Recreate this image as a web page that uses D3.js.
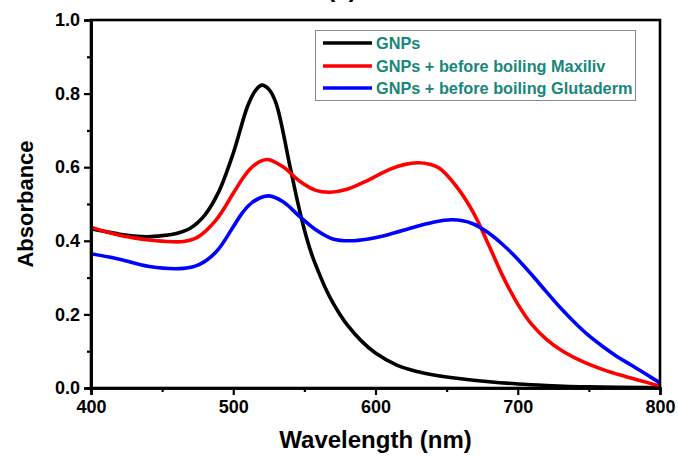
<!DOCTYPE html>
<html>
<head>
<meta charset="utf-8">
<script src="https://cdn.jsdelivr.net/npm/d3@7"></script>
<style>
  html, body { margin: 0; padding: 0; background: #fff; }
  svg { display: block; font-family: "Liberation Sans", Arial, sans-serif; }
</style>
</head>
<body>
<svg id="chart" width="678" height="460"></svg>
<script>
// UV-Vis absorbance spectra of gold nanoparticles (GNPs)
const seriesNames = ["GNPs", "GNPs + before boiling Maxiliv", "GNPs + before boiling Glutaderm"];
const seriesColors = ["#000000", "#ff0000", "#0000ff"];

const gnpsWavelength = [400, 410, 420, 430, 440, 450, 460, 470, 480, 490, 500, 510, 515, 520, 525, 530, 540, 545, 550, 555, 560, 565, 570, 575, 580, 590, 600, 615, 630, 640, 660, 680, 700, 720, 750, 800];
const gnpsAbs        = [0.433, 0.425, 0.418, 0.413, 0.411, 0.414, 0.42, 0.435, 0.47, 0.535, 0.638, 0.765, 0.805, 0.823, 0.812, 0.775, 0.60, 0.51, 0.43, 0.365, 0.315, 0.27, 0.232, 0.20, 0.172, 0.128, 0.095, 0.062, 0.044, 0.036, 0.025, 0.017, 0.011, 0.007, 0.003, 0.001];

const maxilivWavelength = [400, 410, 420, 430, 441, 450, 465, 475, 488, 500, 506, 512, 518, 524, 535, 547, 558, 568, 580, 595, 610, 620, 630, 638, 645, 657, 669, 680, 690, 700, 710, 720, 730, 745, 760, 775, 790, 800];
const maxilivAbs        = [0.437, 0.425, 0.415, 0.408, 0.402, 0.399, 0.398, 0.41, 0.457, 0.529, 0.566, 0.596, 0.614, 0.621, 0.601, 0.561, 0.537, 0.532, 0.54, 0.565, 0.594, 0.607, 0.612, 0.608, 0.597, 0.547, 0.475, 0.385, 0.30, 0.228, 0.172, 0.133, 0.104, 0.073, 0.05, 0.032, 0.016, 0.005];

const glutadermWavelength = [400, 420, 441, 465, 476, 488, 500, 506, 512, 518, 525, 535, 547, 558, 570, 582, 595, 610, 625, 640, 654, 668, 680, 690, 700, 710, 720, 730, 740, 750, 760, 770, 780, 790, 800];
const glutadermAbs        = [0.365, 0.35, 0.33, 0.325, 0.335, 0.37, 0.438, 0.474, 0.50, 0.515, 0.522, 0.506, 0.465, 0.43, 0.405, 0.40, 0.405, 0.418, 0.435, 0.45, 0.457, 0.447, 0.42, 0.388, 0.35, 0.307, 0.262, 0.218, 0.178, 0.142, 0.112, 0.085, 0.062, 0.038, 0.014];

const xTicks = [400, 500, 600, 700, 800];
const xMinorTicks = [450, 550, 650, 750];
const yTicks = [0.0, 0.2, 0.4, 0.6, 0.8, 1.0];
const yMinorTicks = [0.1, 0.3, 0.5, 0.7, 0.9];

const series = [
  { name: seriesNames[0], color: seriesColors[0], x: gnpsWavelength, y: gnpsAbs },
  { name: seriesNames[1], color: seriesColors[1], x: maxilivWavelength, y: maxilivAbs },
  { name: seriesNames[2], color: seriesColors[2], x: glutadermWavelength, y: glutadermAbs }
];

const svg = d3.select("#chart");
const margin = { left: 91, right: 18, top: 20, bottom: 72 };
const W = 678, H = 460;
const x = d3.scaleLinear().domain([400, 800]).range([margin.left, W - margin.right]);
const y = d3.scaleLinear().domain([0, 1]).range([H - margin.bottom, margin.top]);

// Panel label (partially above the view)
svg.append("text")
  .attr("x", 342).attr("y", -3)
  .attr("text-anchor", "middle")
  .attr("font-size", 24).attr("font-weight", "bold")
  .text("(a)");

// Clip curves to the plot area
svg.append("clipPath").attr("id", "plotClip")
  .append("rect")
  .attr("x", x(400)).attr("y", y(1))
  .attr("width", x(800) - x(400)).attr("height", y(0) - y(1));

const line = d3.line().curve(d3.curveCatmullRom.alpha(0.5));

const plot = svg.append("g").attr("clip-path", "url(#plotClip)");
series.forEach(s => {
  const pts = s.x.map((w, i) => [x(w), y(s.y[i])]);
  plot.append("path")
    .attr("d", line(pts))
    .attr("fill", "none")
    .attr("stroke", s.color)
    .attr("stroke-width", 3.6)
    .attr("stroke-linejoin", "round");
});

// Frame
svg.append("rect")
  .attr("x", x(400)).attr("y", y(1))
  .attr("width", x(800) - x(400)).attr("height", y(0) - y(1))
  .attr("fill", "none").attr("stroke", "#000").attr("stroke-width", 2.6);

// Axes
const tickFont = 18;
const xAxis = svg.append("g").attr("transform", `translate(0,${y(0)})`)
  .call(d3.axisBottom(x).tickValues(xTicks).tickFormat(d3.format("d")).tickSize(7).tickPadding(5));
const xMinor = svg.append("g").attr("transform", `translate(0,${y(0)})`)
  .call(d3.axisBottom(x).tickValues(xMinorTicks).tickFormat("").tickSize(4));
const yAxis = svg.append("g").attr("transform", `translate(${x(400)},0)`)
  .call(d3.axisLeft(y).tickValues(yTicks).tickFormat(d3.format(".1f")).tickSize(7).tickPadding(4));
const yMinor = svg.append("g").attr("transform", `translate(${x(400)},0)`)
  .call(d3.axisLeft(y).tickValues(yMinorTicks).tickFormat("").tickSize(4));

[xAxis, xMinor, yAxis, yMinor].forEach(g => {
  g.select(".domain").attr("stroke", "#000").attr("stroke-width", 2.6);
  g.selectAll(".tick line").attr("stroke", "#000").attr("stroke-width", 2.2);
  g.selectAll(".tick text")
    .attr("font-size", tickFont).attr("font-weight", "bold").attr("fill", "#000")
    .attr("font-family", "'Liberation Sans', Arial, sans-serif");
});

// Axis titles
svg.append("text")
  .attr("x", (x(400) + x(800)) / 2).attr("y", 448)
  .attr("text-anchor", "middle")
  .attr("font-size", 24).attr("font-weight", "bold")
  .text("Wavelength (nm)");

svg.append("text")
  .attr("transform", `translate(33,${(y(0) + y(1)) / 2}) rotate(-90)`)
  .attr("text-anchor", "middle")
  .attr("font-size", 22).attr("font-weight", "bold")
  .text("Absorbance");

// Legend
const legend = svg.append("g");
legend.append("rect")
  .attr("x", 315.5).attr("y", 30.5).attr("width", 320).attr("height", 70)
  .attr("fill", "#fff").attr("stroke", "#8a8a8a").attr("stroke-width", 1);
const rowY = [43, 66, 88];
series.forEach((s, i) => {
  legend.append("line")
    .attr("x1", 323).attr("x2", 372)
    .attr("y1", rowY[i]).attr("y2", rowY[i])
    .attr("stroke", s.color).attr("stroke-width", 3.6);
  legend.append("text")
    .attr("x", 376).attr("y", rowY[i] + 6)
    .attr("font-size", 16.3).attr("font-weight", "bold")
    .attr("fill", "#16877a")
    .text(s.name);
});
</script>
</body>
</html>
